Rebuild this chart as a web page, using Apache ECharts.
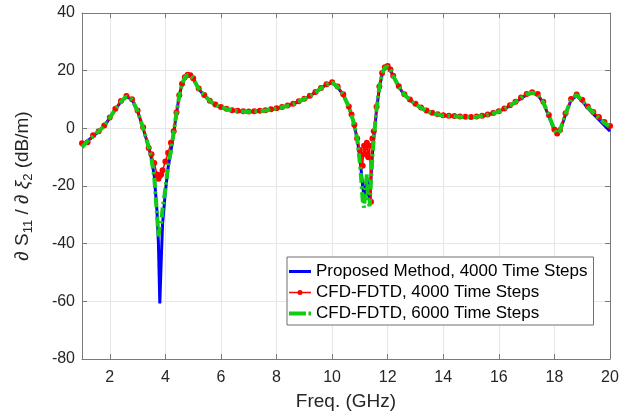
<!DOCTYPE html>
<html><head><meta charset="utf-8">
<script src="https://cdn.jsdelivr.net/npm/echarts@6/dist/echarts.min.js"></script>
<style>html,body{margin:0;padding:0;background:#fff}#c{width:641px;height:419px}</style>
</head><body><div id="c"></div>
<script>
// Frequency samples (GHz)
const freq = [
  1.0,1.2,1.4,1.6,1.8,2.0,2.2,2.4,2.6,2.8,3.0,3.2,3.4,
  3.5,3.6,3.7,3.75,3.8,3.85,3.9,
  4.0,4.1,4.2,4.3,4.4,4.5,4.6,4.7,4.8,4.9,5.0,
  5.2,5.4,5.6,5.8,6.0,6.2,6.4,6.6,6.8,7.0,7.2,7.4,7.6,7.8,8.0,8.2,8.4,8.6,8.8,9.0,9.2,9.4,9.6,9.8,10.0,10.2,10.4,10.6,
  10.7,10.8,10.9,11.0,
  11.05,11.1,11.15,11.2,11.25,11.3,11.35,11.4,11.45,11.5,
  11.6,11.7,11.8,11.9,12.0,12.1,12.2,
  12.4,12.6,12.8,13.0,13.2,13.4,13.6,13.8,14.0,14.2,14.4,14.6,14.8,15.0,15.2,15.4,15.6,15.8,16.0,16.2,16.4,16.6,16.8,17.0,17.2,17.4,17.6,17.8,18.0,
  18.1,18.2,
  18.4,18.6,18.8,19.0,19.2,19.4,19.6,19.8,20.0
];
// Proposed Method, 4000 Time Steps (dB/m)
const proposed4000 = [
  -6.0,-4.4,-2.8,-1.0,0.8,3.6,6.6,9.3,11.0,10.0,6.0,0.0,-6.5,
  -10.5,-16.5,-29,-40,-60.7,-46,-33,
  -22,-13.5,-8,-1.5,5.2,11.3,15.3,17.5,18.4,18.3,17.3,
  13.6,11.4,9.4,8.1,7.2,6.6,6.2,6.0,5.8,5.7,5.8,6.0,6.2,6.5,6.9,7.3,7.8,8.4,9.3,10.2,11.2,12.5,13.9,15.2,15.8,14.3,11.6,7.4,
  4.6,1.0,-3.5,-10,
  -15,-20,-24,-21,-17,-22,-25,-17,-9,-3,
  6.5,14,18.8,21.0,21.4,20.2,18.0,
  14.4,11.6,9.8,8.3,7.0,6.0,5.2,4.7,4.4,4.3,4.2,4.0,3.9,3.8,4.0,4.3,4.7,5.2,5.8,6.8,7.8,9.0,10.4,11.6,12.2,11.6,8.8,4.2,-0.8,
  -2.0,-1.0,
  4.8,9.8,11.3,9.4,7.0,5.0,3.0,1.0,-1.0
];
// CFD-FDTD, 4000 Time Steps (dB/m)
const cfd4000 = [
  -5.2,-4.8,-2.4,-1.0,1.0,3.8,6.8,9.5,11.2,10.1,6.2,0.4,-6.8,
  -9.0,-12,-16,-17.5,-16.5,-16,-14.5,
  -11.5,-8.5,-5,-1,5.5,11.5,15.5,17.7,18.6,18.4,17.4,
  13.8,11.6,9.6,8.3,7.4,6.8,6.3,6.1,5.9,5.8,5.9,6.1,6.3,6.6,7.0,7.4,7.9,8.5,9.4,10.3,11.3,12.6,14.0,15.3,16.0,14.5,11.8,7.6,
  4.8,1.2,-3.5,-7.5,
  -9,-13,-6,-9,-5,-10,-6,-25.5,-3.5,-1,
  7.5,14.5,19.2,21.2,21.6,20.4,18.2,
  14.6,11.8,10.0,8.5,7.2,6.2,5.4,4.9,4.5,4.4,4.3,4.1,4.0,3.9,4.1,4.4,4.8,5.3,5.9,6.9,8.0,9.2,10.7,11.9,12.5,11.9,9.2,4.6,-0.4,
  -1.8,-0.6,
  5.2,10.2,11.7,9.9,7.6,5.7,3.9,2.2,0.8
];
// CFD-FDTD, 6000 Time Steps (dB/m)
const cfd6000 = [
  -6.6,-4.4,-2.8,-1.0,0.8,3.6,6.6,9.3,11.0,10.0,6.0,0.0,-6.5,
  -10.5,-17,-30,-37.5,-34,-32.5,-28,
  -21,-13,-7.8,-1.3,5.2,11.4,15.4,17.6,18.5,18.3,17.3,
  13.7,11.5,9.5,8.2,7.3,6.7,6.2,6.0,5.8,5.7,5.8,6.0,6.2,6.5,6.9,7.3,7.8,8.4,9.3,10.2,11.2,12.5,13.9,15.2,15.9,14.4,11.7,7.5,
  4.7,1.0,-3.5,-12,
  -18,-25,-27.5,-21,-16,-25,-27,-18,-10,-3.5,
  6.8,14.2,19.0,21.1,21.5,20.3,18.1,
  14.5,11.7,9.9,8.4,7.1,6.1,5.3,4.8,4.4,4.3,4.2,4.0,3.9,3.8,4.0,4.3,4.7,5.2,5.8,6.8,7.9,9.1,10.6,11.8,12.4,11.8,9.0,4.5,-0.5,
  -1.9,-0.8,
  5.0,10.0,11.6,9.7,7.4,5.5,3.6,1.8,0.5
];
const xTickLabels = [2,4,6,8,10,12,14,16,18,20];
const yTickLabels = [-80,-60,-40,-20,0,20,40];
const seriesNames = ['Proposed Method, 4000 Time Steps','CFD-FDTD, 4000 Time Steps','CFD-FDTD, 6000 Time Steps'];

function pairs(ys){ return freq.map((f,i)=>[f, ys[i]]); }

const FONT = "'Liberation Sans', Arial, Helvetica, sans-serif";
const AX = '#7a7a7a';
const GRID = '#e6e6e6';
const TXT = '#262626';

const chart = echarts.init(document.getElementById('c'), null, {renderer:'canvas'});
chart.setOption({
  animation:false,
  backgroundColor:'#ffffff',
  textStyle:{fontFamily:FONT},
  grid:{left:82, right:31, top:13, bottom:60},
  xAxis:[{
    type:'value', min:1, max:20, splitNumber:10,
    name:'Freq. (GHz)', nameLocation:'middle', nameGap:33,
    nameTextStyle:{fontSize:19, color:TXT, fontFamily:FONT},
    axisLine:{show:true, onZero:false, lineStyle:{color:AX, width:1}},
    axisTick:{show:true, inside:true, length:5, lineStyle:{color:AX}},
    axisLabel:{show:true, margin:11, fontSize:16, color:TXT, fontFamily:FONT, showMinLabel:false,
      formatter:v=> xTickLabels.indexOf(v) >= 0 ? String(v) : ''},
    splitLine:{show:true, lineStyle:{color:GRID, width:1}}
  },{
    type:'value', min:1, max:20, splitNumber:10, position:'top',
    axisLine:{show:true, onZero:false, lineStyle:{color:AX, width:1}},
    axisTick:{show:true, inside:true, length:5, lineStyle:{color:AX}},
    axisLabel:{show:false}, splitLine:{show:false}
  }],
  yAxis:[{
    type:'value', min:-80, max:40, interval:20,
    name:'{i|∂} {n|S}{s|11}{n| / }{i|∂ ξ}{s|2}{n| (dB/m)}',
    nameLocation:'middle', nameGap:47, nameRotate:90,
    nameTextStyle:{color:TXT, fontSize:19, fontFamily:FONT,
      rich:{
        n:{fontSize:19, lineHeight:24, color:TXT, fontFamily:FONT},
        i:{fontSize:19, lineHeight:24, color:TXT, fontFamily:FONT, fontStyle:'italic'},
        s:{fontSize:13, lineHeight:13, color:TXT, fontFamily:FONT, verticalAlign:'bottom'}
      }},
    axisLine:{show:true, onZero:false, lineStyle:{color:AX, width:1}},
    axisTick:{show:true, inside:true, length:5, lineStyle:{color:AX}},
    axisLabel:{show:true, margin:7, fontSize:16, color:TXT, fontFamily:FONT,
      formatter:v=> yTickLabels.indexOf(v) >= 0 ? String(v) : ''},
    splitLine:{show:true, lineStyle:{color:GRID, width:1}}
  },{
    type:'value', min:-80, max:40, interval:20, position:'right',
    axisLine:{show:true, onZero:false, lineStyle:{color:AX, width:1}},
    axisTick:{show:true, inside:true, length:5, lineStyle:{color:AX}},
    axisLabel:{show:false}, splitLine:{show:false}
  }],
  legend:{
    orient:'vertical', left:287, top:257,
    backgroundColor:'#ffffff', borderColor:'#6e6e6e', borderWidth:1,
    padding:[6,6,3,2], itemWidth:22, itemHeight:10, itemGap:4,
    textStyle:{fontSize:17, lineHeight:17, color:'#000', fontFamily:FONT},
    itemStyle:{borderWidth:0},
    data:[
      {name:seriesNames[0], icon:'path://M0,0 L22,0 L22,3 L0,3 Z'},
      {name:seriesNames[1], icon:'path://M0,1.75 L22,1.75 L22,3.25 L0,3.25 Z M8.5,2.5 A2.5,2.5 0 1 1 13.5,2.5 A2.5,2.5 0 1 1 8.5,2.5 Z'},
      {name:seriesNames[2], icon:'path://M0,0 L17,0 L17,4 L0,4 Z M19.5,0 L22,0 L22,4 L19.5,4 Z'}
    ]
  },
  series:[
    {name:seriesNames[0], type:'line', data:pairs(proposed4000), showSymbol:false, symbol:'none',
      lineStyle:{color:'#0000ff', width:3}, itemStyle:{color:'#0000ff'}, z:2},
    {name:seriesNames[1], type:'line', data:pairs(cfd4000), showSymbol:true, symbol:'circle', symbolSize:6,
      lineStyle:{color:'#ff0000', width:1.5}, itemStyle:{color:'#ff0000', borderWidth:0}, z:3},
    {name:seriesNames[2], type:'line', data:pairs(cfd6000), showSymbol:false, symbol:'none',
      lineStyle:{color:'#11cc11', width:4, type:[10,3.5,2.5,3.5], cap:'butt'}, itemStyle:{color:'#11cc11'}, z:4}
  ]
});
</script></body></html>
